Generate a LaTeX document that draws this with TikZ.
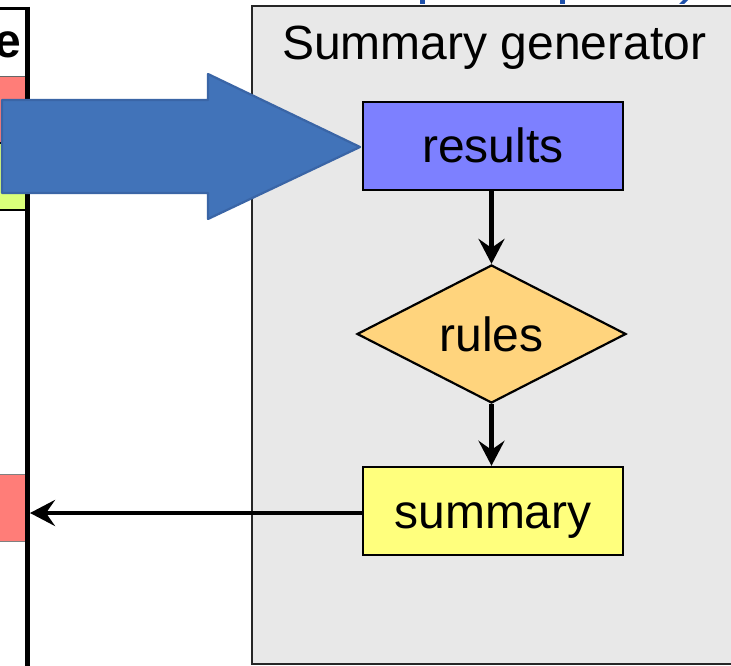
\documentclass[tikz,border=0pt]{standalone}
\usepackage{fontspec}
\setmainfont{Liberation Sans}
\usetikzlibrary{shapes.geometric,arrows.meta}
\definecolor{panelgray}{RGB}{232,232,232}
\definecolor{resblue}{RGB}{125,128,255}
\definecolor{rulesorange}{RGB}{255,212,125}
\definecolor{sumyellow}{RGB}{255,255,125}
\definecolor{bigblue}{RGB}{65,115,185}
\definecolor{bigblueedge}{RGB}{58,101,166}
\definecolor{cellred}{RGB}{255,125,120}
\definecolor{cellgreen}{RGB}{218,255,122}
\definecolor{titleblue}{RGB}{30,80,170}
\tikzset{
  bigfont/.style={font=\fontsize{48}{56}\selectfont},
  flowbox/.style={draw=black, line width=2.4pt, bigfont, inner sep=0pt,
    minimum width=260pt, minimum height=88pt, text height=34pt, text depth=0pt},
  flowdiamond/.style={diamond, draw=black, line width=2.2pt, bigfont, inner sep=0pt,
    aspect=2, minimum width=269pt, minimum height=138pt, text height=34pt, text depth=0pt},
  flowarrow/.style={line width=4.8pt, -{Stealth[length=25pt,width=26pt,inset=9pt]}},
}
\begin{document}
\begin{tikzpicture}[x=1pt,y=-1pt]
\useasboundingbox (0,0) rectangle (731,666);
\clip (0,0) rectangle (731,666);
\fill[white] (0,0) rectangle (731,666);

% left panel (cut-off column)
\fill[cellred] (-10,77) rectangle (27,143);
\fill[cellgreen] (-10,143) rectangle (27,210);
\fill[cellred] (-10,474) rectangle (27,541);
\draw[line width=1pt, black!60] (-10,77) -- (30,77);
\draw[line width=1.2pt] (-10,143) -- (27,143);
\draw[line width=2pt] (-10,210) -- (27,210);
\draw[line width=1pt, black!50] (-10,474) -- (30,474);
\draw[line width=1pt, black!50] (-10,541) -- (30,541);
\draw[line width=3pt] (-10,8.5) -- (29,8.5);
\draw[line width=4.5pt] (27.5,7) -- (27.5,670);
\node[font=\fontsize{48}{56}\selectfont\bfseries, anchor=base east, inner sep=0pt] (hdr) at (21.5,57.5) {e};
\coordinate (lp) at (30,513);

% blue title fragments at top
\fill[titleblue] (420,-1) rectangle (424.5,4);
\fill[titleblue] (560,-1) rectangle (564.5,4);
\fill[titleblue] (679,4) -- (684,4) -- (689,-1) -- (684,-1) -- cycle;

% summary generator panel
\draw[fill=panelgray, draw=black!85, line width=2.2pt] (252,6) rectangle (760,664);
\node[bigfont, anchor=base west, inner sep=0pt] (title) at (282,60) {Summary generator};

% big blue arrow
\draw[fill=bigblue, draw=bigblueedge, line width=2.2pt, line join=round]
  (2,100) -- (208,100) -- (208,74) -- (360,147) -- (208,219) -- (208,193) -- (2,193) -- cycle;

% flow nodes
\node[flowbox, fill=resblue] (res) at (493,146) {results};
\node[flowdiamond, fill=rulesorange] (rules) at (491.5,334) {rules};
\node[flowbox, fill=sumyellow] (sum) at (493,511) {summary};

\draw[flowarrow] (res.south -| rules.north) -- (rules.north);
\draw[flowarrow] (rules.south) -- (rules.south |- sum.north);
\draw[flowarrow] (sum.west |- lp) -- (lp);
\end{tikzpicture}
\end{document}
